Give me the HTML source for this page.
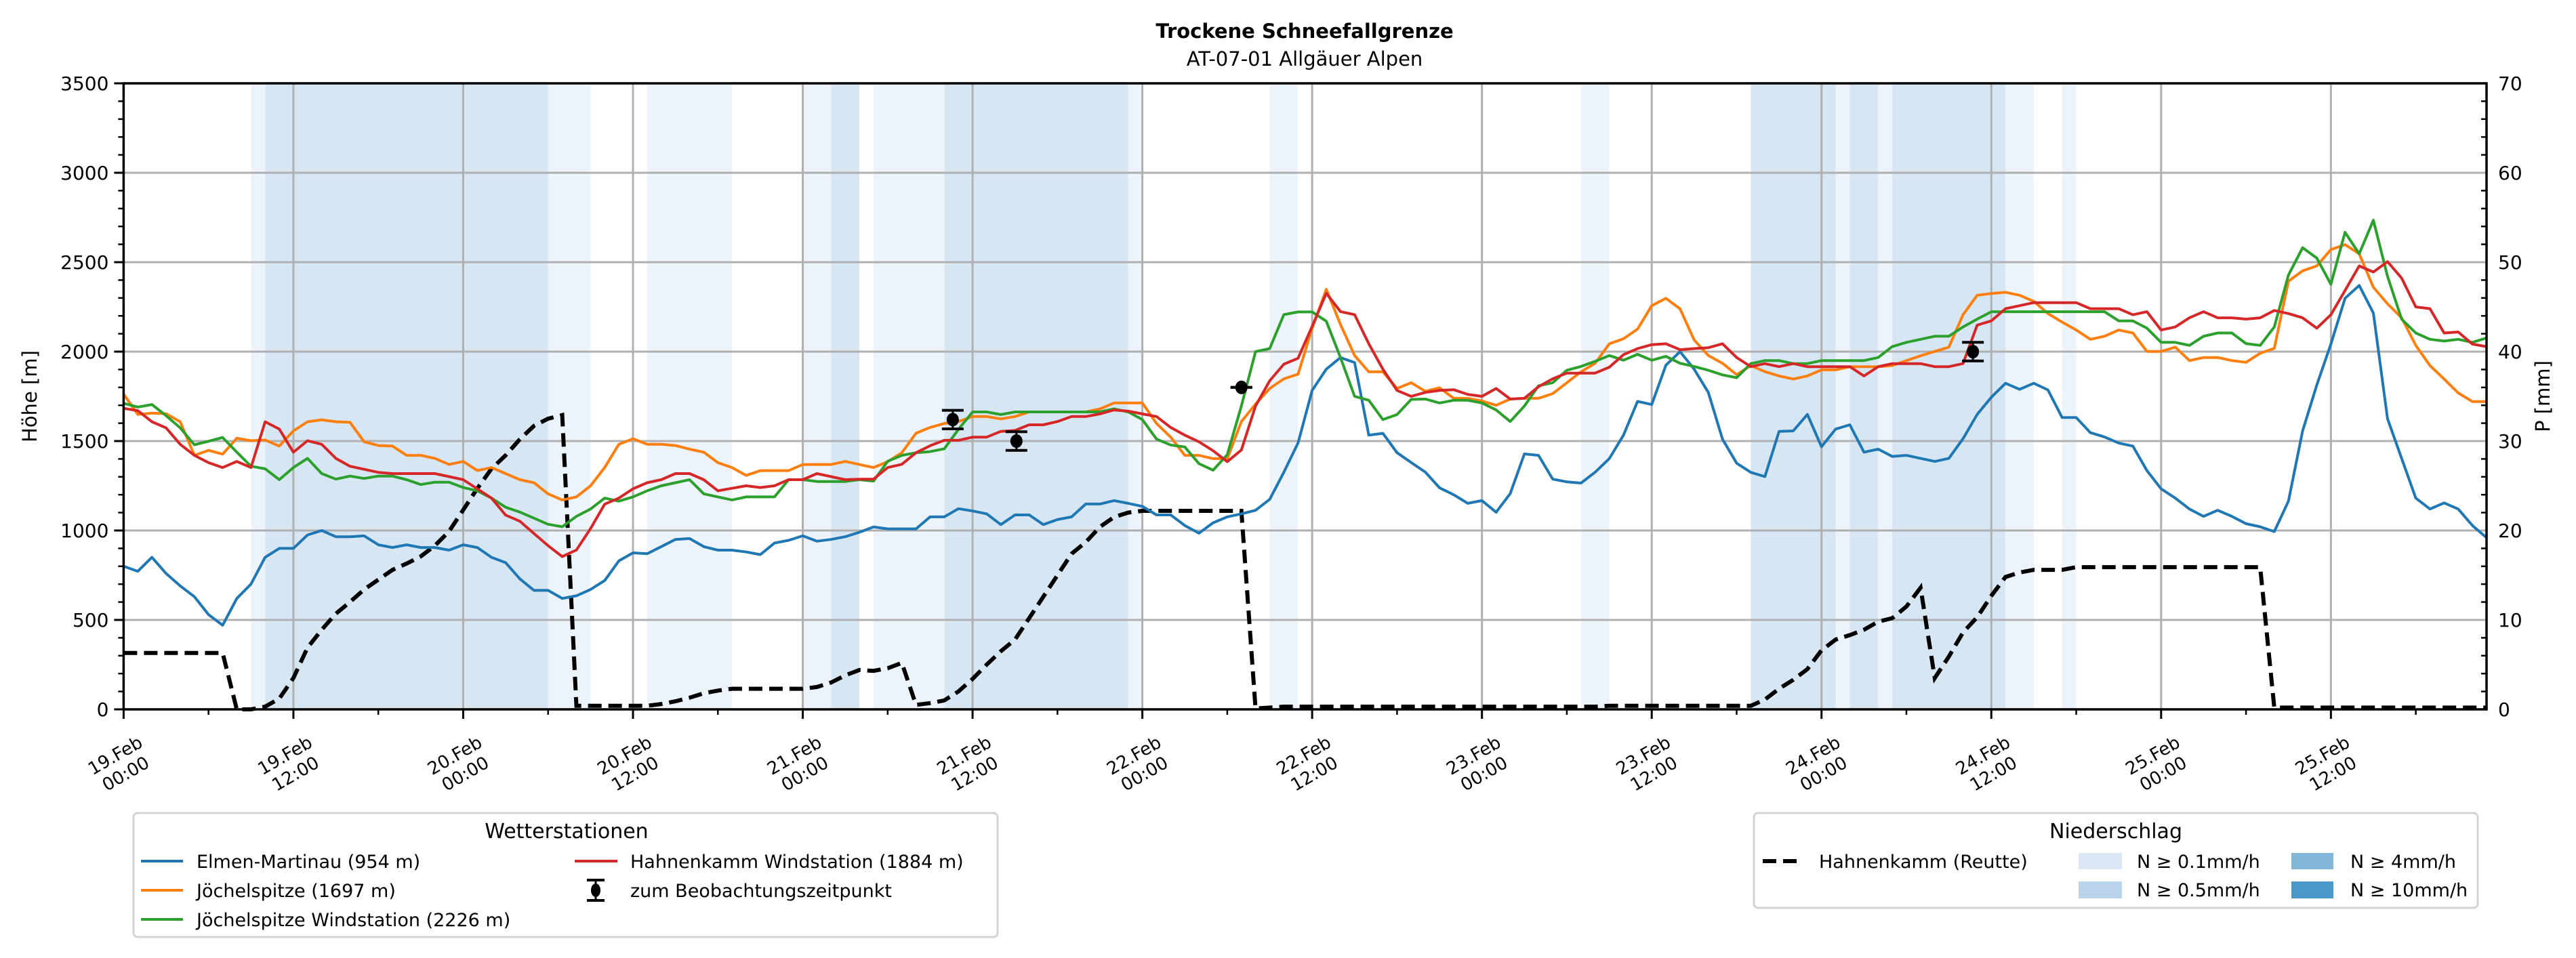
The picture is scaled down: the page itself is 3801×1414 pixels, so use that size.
<!DOCTYPE html>
<html><head><meta charset="utf-8"><style>
html,body{margin:0;padding:0;background:#fff;}
svg{display:block;font-family:"DejaVu Sans","Liberation Sans",sans-serif;}
</style></head><body>
<svg id="chart" xmlns="http://www.w3.org/2000/svg" width="3801" height="1414" viewBox="0 0 3801 1414">
<text x="1925" y="56" text-anchor="middle" font-size="29" font-weight="bold">Trockene Schneefallgrenze</text>
<text x="1925" y="97" text-anchor="middle" font-size="29">AT-07-01 Allgäuer Alpen</text>
<g id="bands"></g>
<g id="grid"></g>
<g id="series"></g>
<g id="axes"></g>
<text transform="translate(54,585) rotate(-90)" text-anchor="middle" font-size="29">Höhe [m]</text>
<text transform="translate(3762,585) rotate(-90)" text-anchor="middle" font-size="29">P [mm]</text>

<g>
<rect x="197" y="1200" width="1275" height="183" rx="6" fill="#fff" stroke="#d3d3d3" stroke-width="3"/>
<text x="836" y="1237" text-anchor="middle" font-size="30">Wetterstationen</text>
<g><line x1="208" y1="1271" x2="270" y2="1271" stroke="#1f77b4" stroke-width="4"/><text x="290" y="1281" font-size="27">Elmen-Martinau (954 m)</text></g>
<g><line x1="208" y1="1314" x2="270" y2="1314" stroke="#ff7f0e" stroke-width="4"/><text x="290" y="1324" font-size="27">Jöchelspitze (1697 m)</text></g>
<g><line x1="208" y1="1357" x2="270" y2="1357" stroke="#2ca02c" stroke-width="4"/><text x="290" y="1367" font-size="27">Jöchelspitze Windstation (2226 m)</text></g>
<g><line x1="848" y1="1271" x2="911" y2="1271" stroke="#d62728" stroke-width="4"/><text x="930" y="1281" font-size="27">Hahnenkamm Windstation (1884 m)</text></g>
<g><line x1="879" y1="1299" x2="879" y2="1329" stroke="#000" stroke-width="3"/><line x1="866" y1="1299" x2="892" y2="1299" stroke="#000" stroke-width="4"/><line x1="866" y1="1329" x2="892" y2="1329" stroke="#000" stroke-width="4"/><ellipse cx="879" cy="1314" rx="7" ry="10" fill="#000"/><text x="930" y="1324" font-size="27">zum Beobachtungszeitpunkt</text></g>
</g>

<g>
<rect x="2588" y="1200" width="1068" height="140" rx="6" fill="#fff" stroke="#d3d3d3" stroke-width="3"/>
<text x="3122" y="1237" text-anchor="middle" font-size="30">Niederschlag</text>
<g><line x1="2601" y1="1271" x2="2658" y2="1271" stroke="#000" stroke-width="6" stroke-dasharray="20 10"/><text x="2684" y="1281" font-size="27">Hahnenkamm (Reutte)</text></g>
<g><rect x="3067" y="1259" width="64" height="24" fill="#dae8f5"/><text x="3153" y="1281" font-size="27">N ≥ 0.1mm/h</text></g>
<g><rect x="3067" y="1301" width="64" height="25" fill="#b9d4ea"/><text x="3153" y="1323" font-size="27">N ≥ 0.5mm/h</text></g>
<g><rect x="3381" y="1259" width="62" height="24" fill="#82b7d9"/><text x="3468" y="1281" font-size="27">N ≥ 4mm/h</text></g>
<g><rect x="3381" y="1301" width="62" height="25" fill="#4a97c9"/><text x="3468" y="1323" font-size="27">N ≥ 10mm/h</text></g>
</g>
</svg>
<script>
// ---- data (hourly, starting 19.Feb 00:00) ----
const elmen = [800,772,850,760,690,630,530,470,620,700,850,900,900,975,1000,965,965,970,920,905,920,905,905,890,920,905,850,820,730,665,665,620,635,670,720,830,875,870,910,950,955,910,890,890,880,865,930,945,970,940,950,965,990,1020,
1009,1009,1009,1076,1076,1122,1109,1093,1033,1087,1087,1033,1061,1076,1148,1148,1167,1152,1135,1087,1087,1028,985,1043,1076,1093,1113,1174,1326,1489,1783,1902,1967,1939,1533,1543,1435,1380,1326,1239,1200,1152,1167,1102,1206,1428,1420,1287,1272,1265,1326,1402,1533,1722,1704,1924,2000,1902,1772,1511,
1376,1325,1301,1554,1557,1649,1468,1567,1591,1438,1455,1414,1420,1403,1386,1403,1513,1649,1745,1823,1789,1823,1786,1632,1632,1547,1523,1489,1472,1335,1233,1181,1120,1079,1113,1079,1038,1021,994,1164,1557,1813,2042,2298,2370,2216,1625,1403,1181,1120,1154,1120,1028,960];
const joechel = [1762,1649,1656,1653,1608,1420,1448,1427,1516,1502,1506,1472,1557,1608,1619,1608,1605,1496,1475,1472,1420,1420,1403,1369,1386,1335,1352,1318,1284,1267,1205,1171,1188,1250,1352,1482,1513,1482,1482,1475,1455,1438,1379,1352,1308,1335,1335,1335,1369,1369,1369,1386,1369,1352,
1385,1435,1544,1576,1598,1609,1637,1637,1624,1637,1663,1663,1663,1663,1663,1680,1713,1713,1713,1598,1522,1420,1420,1402,1402,1609,1707,1794,1848,1874,2130,2348,2152,1978,1887,1887,1794,1826,1778,1798,1739,1739,1724,1700,1735,1739,1739,1765,1826,1887,1935,2044,2072,2126,2257,2298,2239,2065,1978,1935,
1871,1922,1888,1864,1847,1864,1898,1898,1916,1916,1916,1922,1950,1977,2001,2025,2206,2315,2325,2332,2315,2281,2213,2165,2121,2069,2086,2121,2104,2001,2001,2025,1950,1967,1967,1950,1940,1991,2018,2394,2452,2479,2571,2598,2547,2360,2267,2189,2035,1922,1847,1769,1721,1721];
const joechelWind = [1711,1690,1704,1642,1574,1479,1499,1520,1438,1359,1345,1284,1352,1403,1318,1287,1304,1291,1304,1304,1284,1257,1270,1270,1240,1222,1181,1130,1103,1069,1035,1021,1079,1120,1181,1164,1188,1222,1250,1267,1284,1205,1188,1171,1188,1188,1188,1284,1284,1274,1274,1274,1284,1276,
1387,1420,1435,1441,1457,1565,1663,1663,1648,1663,1663,1663,1663,1663,1663,1663,1680,1663,1620,1511,1478,1467,1374,1337,1424,1696,2000,2017,2207,2222,2222,2170,1967,1750,1728,1620,1648,1733,1735,1713,1728,1728,1713,1674,1609,1696,1809,1826,1896,1917,1946,1978,1952,1985,1952,1974,1935,1917,1896,1870,
1854,1933,1950,1950,1933,1933,1950,1950,1950,1950,1967,2028,2052,2069,2086,2086,2138,2182,2223,2223,2223,2223,2223,2223,2223,2223,2223,2172,2172,2131,2052,2052,2035,2086,2104,2104,2045,2035,2138,2428,2581,2523,2377,2667,2547,2735,2421,2182,2104,2069,2059,2069,2052,2076];
const hahnenkamm = [1683,1670,1608,1574,1482,1420,1379,1352,1386,1352,1608,1567,1438,1502,1482,1403,1359,1342,1325,1318,1318,1318,1318,1301,1284,1233,1181,1086,1052,983,915,854,891,1011,1147,1181,1233,1267,1284,1318,1318,1284,1222,1236,1250,1240,1250,1284,1284,1318,1301,1284,1287,1287,
1352,1370,1435,1474,1504,1504,1522,1522,1554,1559,1591,1591,1609,1637,1637,1652,1674,1667,1652,1637,1576,1533,1496,1446,1385,1450,1696,1837,1930,1963,2141,2326,2224,2207,2044,1902,1783,1750,1772,1783,1787,1761,1750,1794,1735,1739,1804,1848,1880,1880,1880,1913,1983,2017,2039,2044,2011,2017,2022,2044,
1967,1916,1933,1916,1933,1916,1916,1916,1916,1864,1916,1933,1933,1933,1916,1916,1933,2148,2172,2240,2257,2274,2274,2274,2274,2240,2240,2240,2206,2223,2121,2138,2189,2223,2189,2189,2182,2189,2230,2213,2189,2131,2206,2342,2479,2445,2503,2411,2250,2240,2104,2110,2042,2028];
const precip = [6.3,6.3,6.3,6.3,6.3,6.3,6.3,6.3,
0,0,0.3,1.2,3.5,6.9,8.9,10.7,12.0,13.4,
14.5,15.6,16.3,17.1,18.3,19.9,22.3,24.7,26.9,28.4,
30.2,31.7,32.5,32.9,0.4,0.4,0.4,0.4,0.4,0.4,
0.6,0.9,1.3,1.8,2.1,2.3,2.3,2.3,2.3,2.3,
2.3,2.5,3.0,3.8,4.4,4.3,4.6,5.2,0.5,0.7,
1.0,2.0,3.4,5.0,6.5,7.8,10.2,12.6,15.0,17.4,
18.7,20.4,21.5,22.0,22.2,22.2,22.2,22.2,22.2,22.2,
22.2,22.2,0.1,0.2,0.3,0.3,0.3,0.3,0.3,0.3,
0.3,0.3,0.3,0.3,0.3,0.3,0.3,0.3,0.3,0.3,
0.3,0.3,0.3,0.3,0.3,0.3,0.3,0.4,0.4,0.4,
0.4,0.4,0.4,0.4,0.4,0.4,0.4,0.4,1.1,2.3,
3.3,4.5,6.6,7.8,8.3,8.9,9.8,10.2,11.5,13.6,
3.5,5.9,8.6,10.3,12.7,14.8,15.3,15.6,15.6,15.6,
15.9,15.9,15.9,15.9,15.9,15.9,15.9,15.9,15.9,15.9,
15.9,15.9,15.9,15.9,0.2,0.2,0.2,0.2,0.2,0.2,
0.2,0.2,0.2,0.2,0.2,0.2,0.2,0.2,0.2,0.2];
const obsHours = [58.6, 63.1, 79.0, 130.7];
const obsValues = [1620, 1500, 1800, 2000];
const obsErrors = [52, 52, 0, 52];
const bandStart = [9,10,30,37,48,50,53,58,71,81,103,115,121,122,124,125,133,137];
const bandEnd   = [10,30,33,43,50,52,58,71,72,83,105,121,122,124,125,133,135,138];
const bandLevel = [1,2,1,1,1,2,1,2,1,1,1,2,1,2,1,2,1,1];
const yTicks = [0,500,1000,1500,2000,2500,3000,3500];
const y2Ticks = [0,10,20,30,40,50,60,70];
const xTickDays = ["19.Feb","19.Feb","20.Feb","20.Feb","21.Feb","21.Feb","22.Feb","22.Feb","23.Feb","23.Feb","24.Feb","24.Feb","25.Feb","25.Feb"];
const xTickTimes = ["00:00","12:00","00:00","12:00","00:00","12:00","00:00","12:00","00:00","12:00","00:00","12:00","00:00","12:00"];

// ---- scales ----
const L=182.4, R=3669, T=123, B=1047, HMAX=167, YMAX=3500, PMAX=70;
const xS = h => L + h*(R-L)/HMAX;
const yS = m => B - m*(B-T)/YMAX;
const y2S = p => B - p*(B-T)/PMAX;
const NS="http://www.w3.org/2000/svg";
function mk(tag, attrs, parent){const e=document.createElementNS(NS,tag);for(const k in attrs)e.setAttribute(k,attrs[k]);parent.appendChild(e);return e;}

const bandsG=document.getElementById('bands');
const bandColors=["", "#edf3fa", "#d7e6f3"];
for(let i=0;i<bandStart.length;i++){
  const r=mk('rect',{x:xS(bandStart[i]),y:T,width:xS(bandEnd[i])-xS(bandStart[i]),height:B-T,fill:bandColors[bandLevel[i]]},bandsG);
  
  
}
const gridG=document.getElementById('grid');
for(let i=0;i<xTickDays.length;i++){
  const x=xS(i*12);
  const l=mk('line',{x1:x,y1:T,x2:x,y2:B,stroke:"#b0b0b0","stroke-width":3},gridG);
  
  
}
for(const v of yTicks){
  const l=mk('line',{x1:L,y1:yS(v),x2:R,y2:yS(v),stroke:"#b0b0b0","stroke-width":3},gridG);
  
  
}
const sG=document.getElementById('series');
function line(arr, color, name, scale, extra){
  const pts=arr.map((v,i)=>xS(i).toFixed(1)+","+scale(v).toFixed(1)).join(" ");
  const p=mk('polyline',Object.assign({points:pts,fill:"none",stroke:color,"stroke-width":4,"stroke-linejoin":"round"},extra||{}),sG);
  
  
}
line(precip,"#000","precip-line-hahnenkamm-reutte",y2S,{"stroke-width":6,"stroke-dasharray":"20 10","stroke-linejoin":"miter"});
line(elmen,"#1f77b4","line-elmen-martinau",yS);
line(joechel,"#ff7f0e","line-joechelspitze",yS);
line(joechelWind,"#2ca02c","line-joechelspitze-wind",yS);
line(hahnenkamm,"#d62728","line-hahnenkamm-wind",yS);
for(let i=0;i<obsHours.length;i++){
  const g=mk('g',{},sG);
  
  
  const x=xS(obsHours[i]), y=yS(obsValues[i]), y1=yS(obsValues[i]+obsErrors[i]), y2=yS(obsValues[i]-obsErrors[i]);
  mk('line',{x1:x,y1:y1,x2:x,y2:y2,stroke:"#000","stroke-width":3},g);
  mk('line',{x1:x-16,y1:y1,x2:x+16,y2:y1,stroke:"#000","stroke-width":4},g);
  mk('line',{x1:x-16,y1:y2,x2:x+16,y2:y2,stroke:"#000","stroke-width":4},g);
  mk('ellipse',{cx:x,cy:y,rx:9,ry:10,fill:"#000"},g);
}
const aG=document.getElementById('axes');
mk('rect',{x:L,y:T,width:R-L,height:B-T,fill:"none",stroke:"#000","stroke-width":3.5},aG);
for(const v of yTicks){
  mk('line',{x1:L-14,y1:yS(v),x2:L,y2:yS(v),stroke:"#000","stroke-width":3},aG);
  const t=mk('text',{x:L-22,y:yS(v)+10,"text-anchor":"end","font-size":28},aG);t.textContent=v;
  
  
}
for(let v=100;v<YMAX;v+=100){ if(v%500) mk('line',{x1:L-8,y1:yS(v),x2:L,y2:yS(v),stroke:"#000","stroke-width":2.5},aG); }
for(const v of y2Ticks){
  const t=mk('text',{x:R+17,y:y2S(v)+10,"font-size":28},aG);t.textContent=v;
  
  
}
for(let v=2;v<PMAX;v+=2){ if(v%10) mk('line',{x1:R-8,y1:y2S(v),x2:R,y2:y2S(v),stroke:"#000","stroke-width":2.5},aG); }
for(let i=0;i<xTickDays.length;i++){
  const x=xS(i*12);
  mk('line',{x1:x,y1:B,x2:x,y2:B+14,stroke:"#000","stroke-width":3},aG);
  mk('line',{x1:xS(i*12+6),y1:B,x2:xS(i*12+6),y2:B+8,stroke:"#000","stroke-width":2.5},aG);
  const g=mk('g',{transform:`translate(${x-5},1128) rotate(-30)`},aG);
  
  
  const t1=mk('text',{x:0,y:-6,"text-anchor":"middle","font-size":26},g);t1.textContent=xTickDays[i];
  const t2=mk('text',{x:0,y:25,"text-anchor":"middle","font-size":26},g);t2.textContent=xTickTimes[i];
}
</script>
</body></html>
